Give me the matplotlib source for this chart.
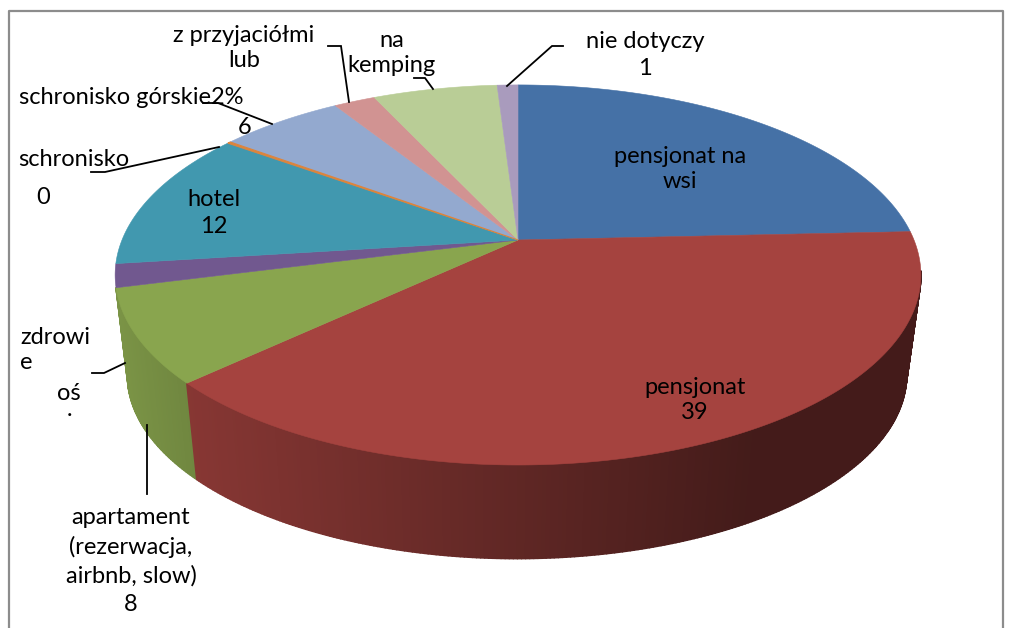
import numpy as np
import matplotlib
matplotlib.use("Agg")
import matplotlib.pyplot as plt
from matplotlib.collections import PolyCollection
from matplotlib.colors import to_rgb

plt.rcParams["font.family"] = ["Lato", "DejaVu Sans"]

# dane z wykresu (schronisko ma podpis 0, ale widac cienki pasek)
categories = ["pensjonat na wsi", "pensjonat", "apartament", "zdrowie", "hotel",
              "schronisko", "schronisko górskie", "z przyjaciółmi", "na kemping", "nie dotyczy"]
values = [24.4, 39, 8, 2, 12, 0.15, 6, 2, 6, 1]
colors = ["#4571A6", "#A5433F", "#89A54E", "#71588F", "#4198AF",
          "#DB843D", "#93A9CF", "#D19392", "#B9CD96", "#A99BBD"]

# podpisy
label_texts = ["pensjonat na\nwsi", "pensjonat\n39", "apartament\n(rezerwacja,\nairbnb, slow)\n8",
               "oś", ".", "hotel\n12", "schronisko", "0", "schronisko górskie2%", "6",
               "z przyjaciółmi\nlub", "na\nkemping", "nie dotyczy\n1"]
label_x = [680, 695, 131, 69, 70, 214, 74, 43, 131, 245, 244, 392, 645]
label_y = [169, 400, 561, 394, 409, 213, 160, 197, 98, 127, 48, 53, 55]
label_ls = [1.23, 1.28, 1.42, 1.28, 1.28, 1.38, 1.28, 1.28, 1.28, 1.28, 1.28, 1.28, 1.36]

# linie odniesienia
leaders = [
    ([203, 218, 272], [103, 103, 124]),
    ([91, 105, 219], [172, 172, 147]),
    ([328, 341, 349], [46, 46, 102]),
    ([414, 425, 433], [78, 78, 89]),
    ([563, 552, 507], [46, 46, 86]),
    ([92, 104, 125], [373, 373, 363]),
    ([147, 147], [425, 494]),
]

# geometria "3D": kolo w perspektywie
cx, cy = 518, 240
a, b, k = 183.6, 396, 0.184
bottom_scale, bottom_dx, bottom_dy = 0.967, -1, 101


def project(theta, r=1.0, lower=False):
    X = r * np.cos(theta)
    Y = r * np.sin(theta)
    x = b * X / (1 + k * Y)
    y = a * Y / (1 + k * Y)
    if lower:
        return cx + bottom_dx + bottom_scale * x, cy + bottom_dy - bottom_scale * y
    return cx + x, cy - y


def shade(x):
    # bok ciemnieje od lewej do prawej
    return np.interp(x, [120, 190, 750], [0.90, 0.82, 0.41])


fig = plt.figure(figsize=(10.12, 6.28), dpi=100)
ax = fig.add_axes([0, 0, 1, 1])
ax.set_xlim(0, 1012)
ax.set_ylim(628, 0)
ax.axis("off")

# ramka
ax.plot([9, 9, 1003, 1003], [628, 11, 11, 628], color="#8c8c8c", lw=1.6)

fractions = np.array(values) / sum(values)
edges = np.pi / 2 - 2 * np.pi * np.concatenate([[0], np.cumsum(fractions)])

# boki - widac tylko pensjonat i apartament
polys, face = [], []
for i in [2, 1]:
    n = max(int(abs(edges[i + 1] - edges[i]) / np.radians(0.5)), 1)
    t = np.linspace(edges[i + 1], edges[i], n + 1)
    for t1, t2 in zip(t[:-1], t[1:]):
        if np.sin(t1) > -k * 0.9 and np.sin(t2) > -k * 0.9:
            continue
        x1, y1 = project(t1)
        x2, y2 = project(t2)
        x3, y3 = project(t2, lower=True)
        x4, y4 = project(t1, lower=True)
        polys.append([(x1, y1), (x2, y2), (x3, y3), (x4, y4)])
        face.append(np.array(to_rgb(colors[i])) * shade((x1 + x2 + x3 + x4) / 4))
ax.add_collection(PolyCollection(polys, facecolors=face, edgecolors=face, linewidths=1.2, zorder=2))

# wierzch
for i, col in enumerate(colors):
    n = max(int(abs(edges[i + 1] - edges[i]) / np.radians(0.5)), 2)
    t = np.linspace(edges[i], edges[i + 1], n + 1)
    xs, ys = project(t)
    thin = fractions[i] < 0.005
    ax.fill(np.r_[cx, xs], np.r_[cy, ys], color=col, lw=0.8 if thin else 0.4, zorder=3.5 if thin else 3)

for xs, ys in leaders:
    ax.plot(xs, ys, color="black", lw=1.3, zorder=5, solid_joinstyle="miter")

for txt, x, y, ls in zip(label_texts, label_x, label_y, label_ls):
    ax.text(x, y, txt, ha="center", va="center", fontsize=17, color="black",
            linespacing=ls, zorder=6, multialignment="center")
ax.text(20, 350, "zdrowi\ne", ha="left", va="center", fontsize=17, color="black",
        linespacing=1.28, zorder=6, multialignment="left")

fig.savefig("out.png", dpi=100)
